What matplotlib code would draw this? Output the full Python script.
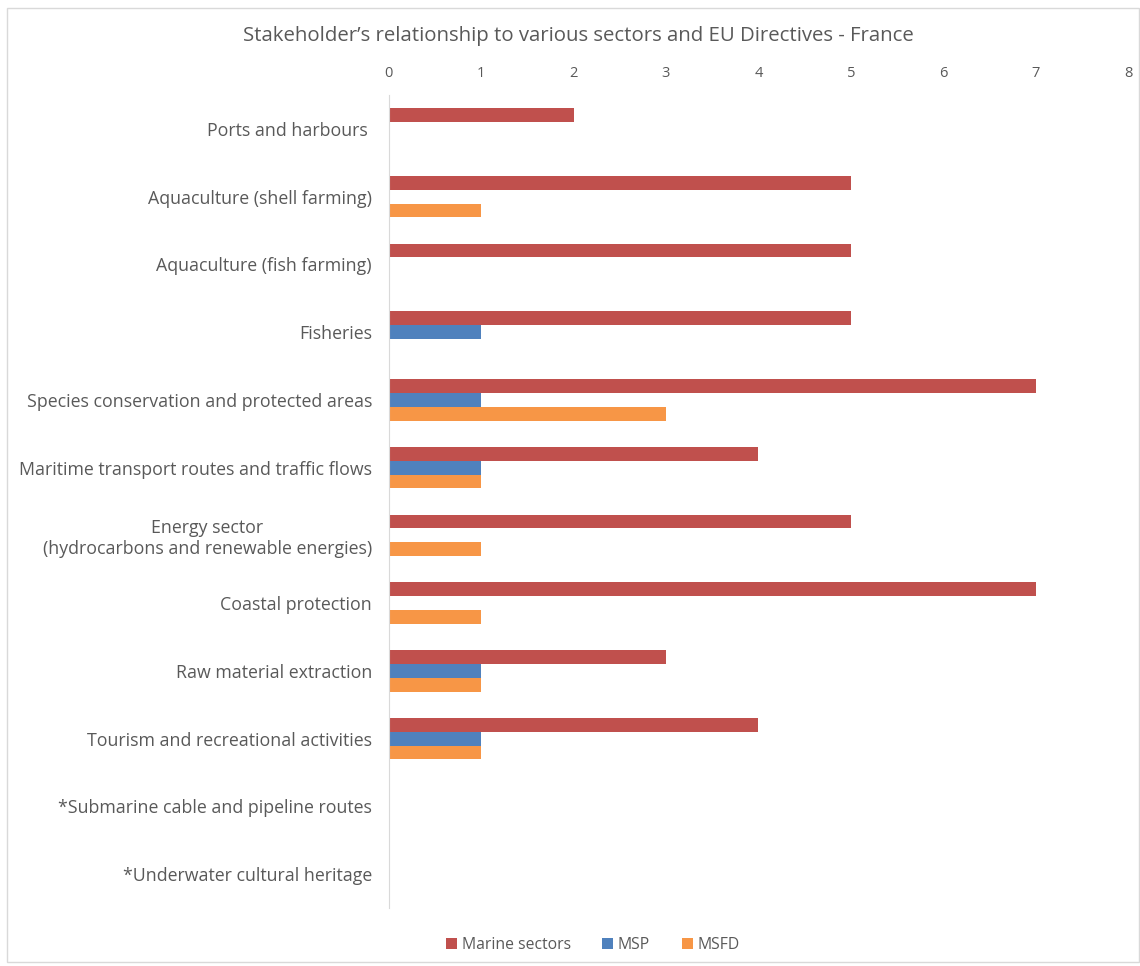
import matplotlib.pyplot as plt
import numpy as np

plt.rcParams['font.family'] = ['Open Sans', 'DejaVu Sans']

categories = ['Ports and harbours ', 'Aquaculture (shell farming)', 'Aquaculture (fish farming)',
              'Fisheries', 'Species conservation and protected areas',
              'Maritime transport routes and traffic flows',
              'Energy sector\n(hydrocarbons and renewable energies)', 'Coastal protection',
              'Raw material extraction', 'Tourism and recreational activities',
              '*Submarine cable and pipeline routes', '*Underwater cultural heritage']
marine = [2, 5, 5, 5, 7, 4, 5, 7, 3, 4, 0, 0]
msp = [0, 0, 0, 1, 1, 1, 0, 0, 1, 1, 0, 0]
msfd = [0, 1, 0, 0, 3, 1, 1, 1, 1, 1, 0, 0]

grey = '#595959'
fig = plt.figure(figsize=(11.4, 9.66), dpi=100)
ax = fig.add_axes([0.341, 0.060, 0.6485, 0.8417])

y = np.arange(len(categories))
h = 0.205
ax.barh(y - h, marine, height=h, color='#C0504D', label='Marine sectors')
ax.barh(y, msp, height=h, color='#4F81BD', label='MSP')
ax.barh(y + h, msfd, height=h, color='#F79646', label='MSFD')

ax.set_ylim(len(categories) - 0.5, -0.5)
ax.set_xlim(0, 8)
ax.set_xticks(range(9))
ax.xaxis.tick_top()
ax.tick_params(axis='x', length=0, pad=10, labelsize=10.5, labelcolor=grey)
ax.set_yticks(y)
ax.set_yticklabels(categories, fontsize=12.8, color=grey, ha='right', multialignment='center')
ax.tick_params(axis='y', length=0, pad=12)
for s in ['top', 'right', 'bottom']:
    ax.spines[s].set_visible(False)
ax.spines['left'].set_color('#d9d9d9')

fig.text(0.507, 0.963, "Stakeholder’s relationship to various sectors and EU Directives - France",
         ha='center', va='center', fontsize=14.7, color=grey)

fig.legend(loc='center', bbox_to_anchor=(0.52, 0.022), ncol=3, frameon=False,
           fontsize=11.3, labelcolor=grey, handlelength=0.7, handleheight=0.7,
           handletextpad=0.3, columnspacing=2.0)

fig.patches.append(plt.Rectangle((0.006, 0.004), 0.993, 0.988, transform=fig.transFigure,
                                 fill=False, edgecolor='#d9d9d9', linewidth=1))

fig.savefig('out.png', dpi=100)
